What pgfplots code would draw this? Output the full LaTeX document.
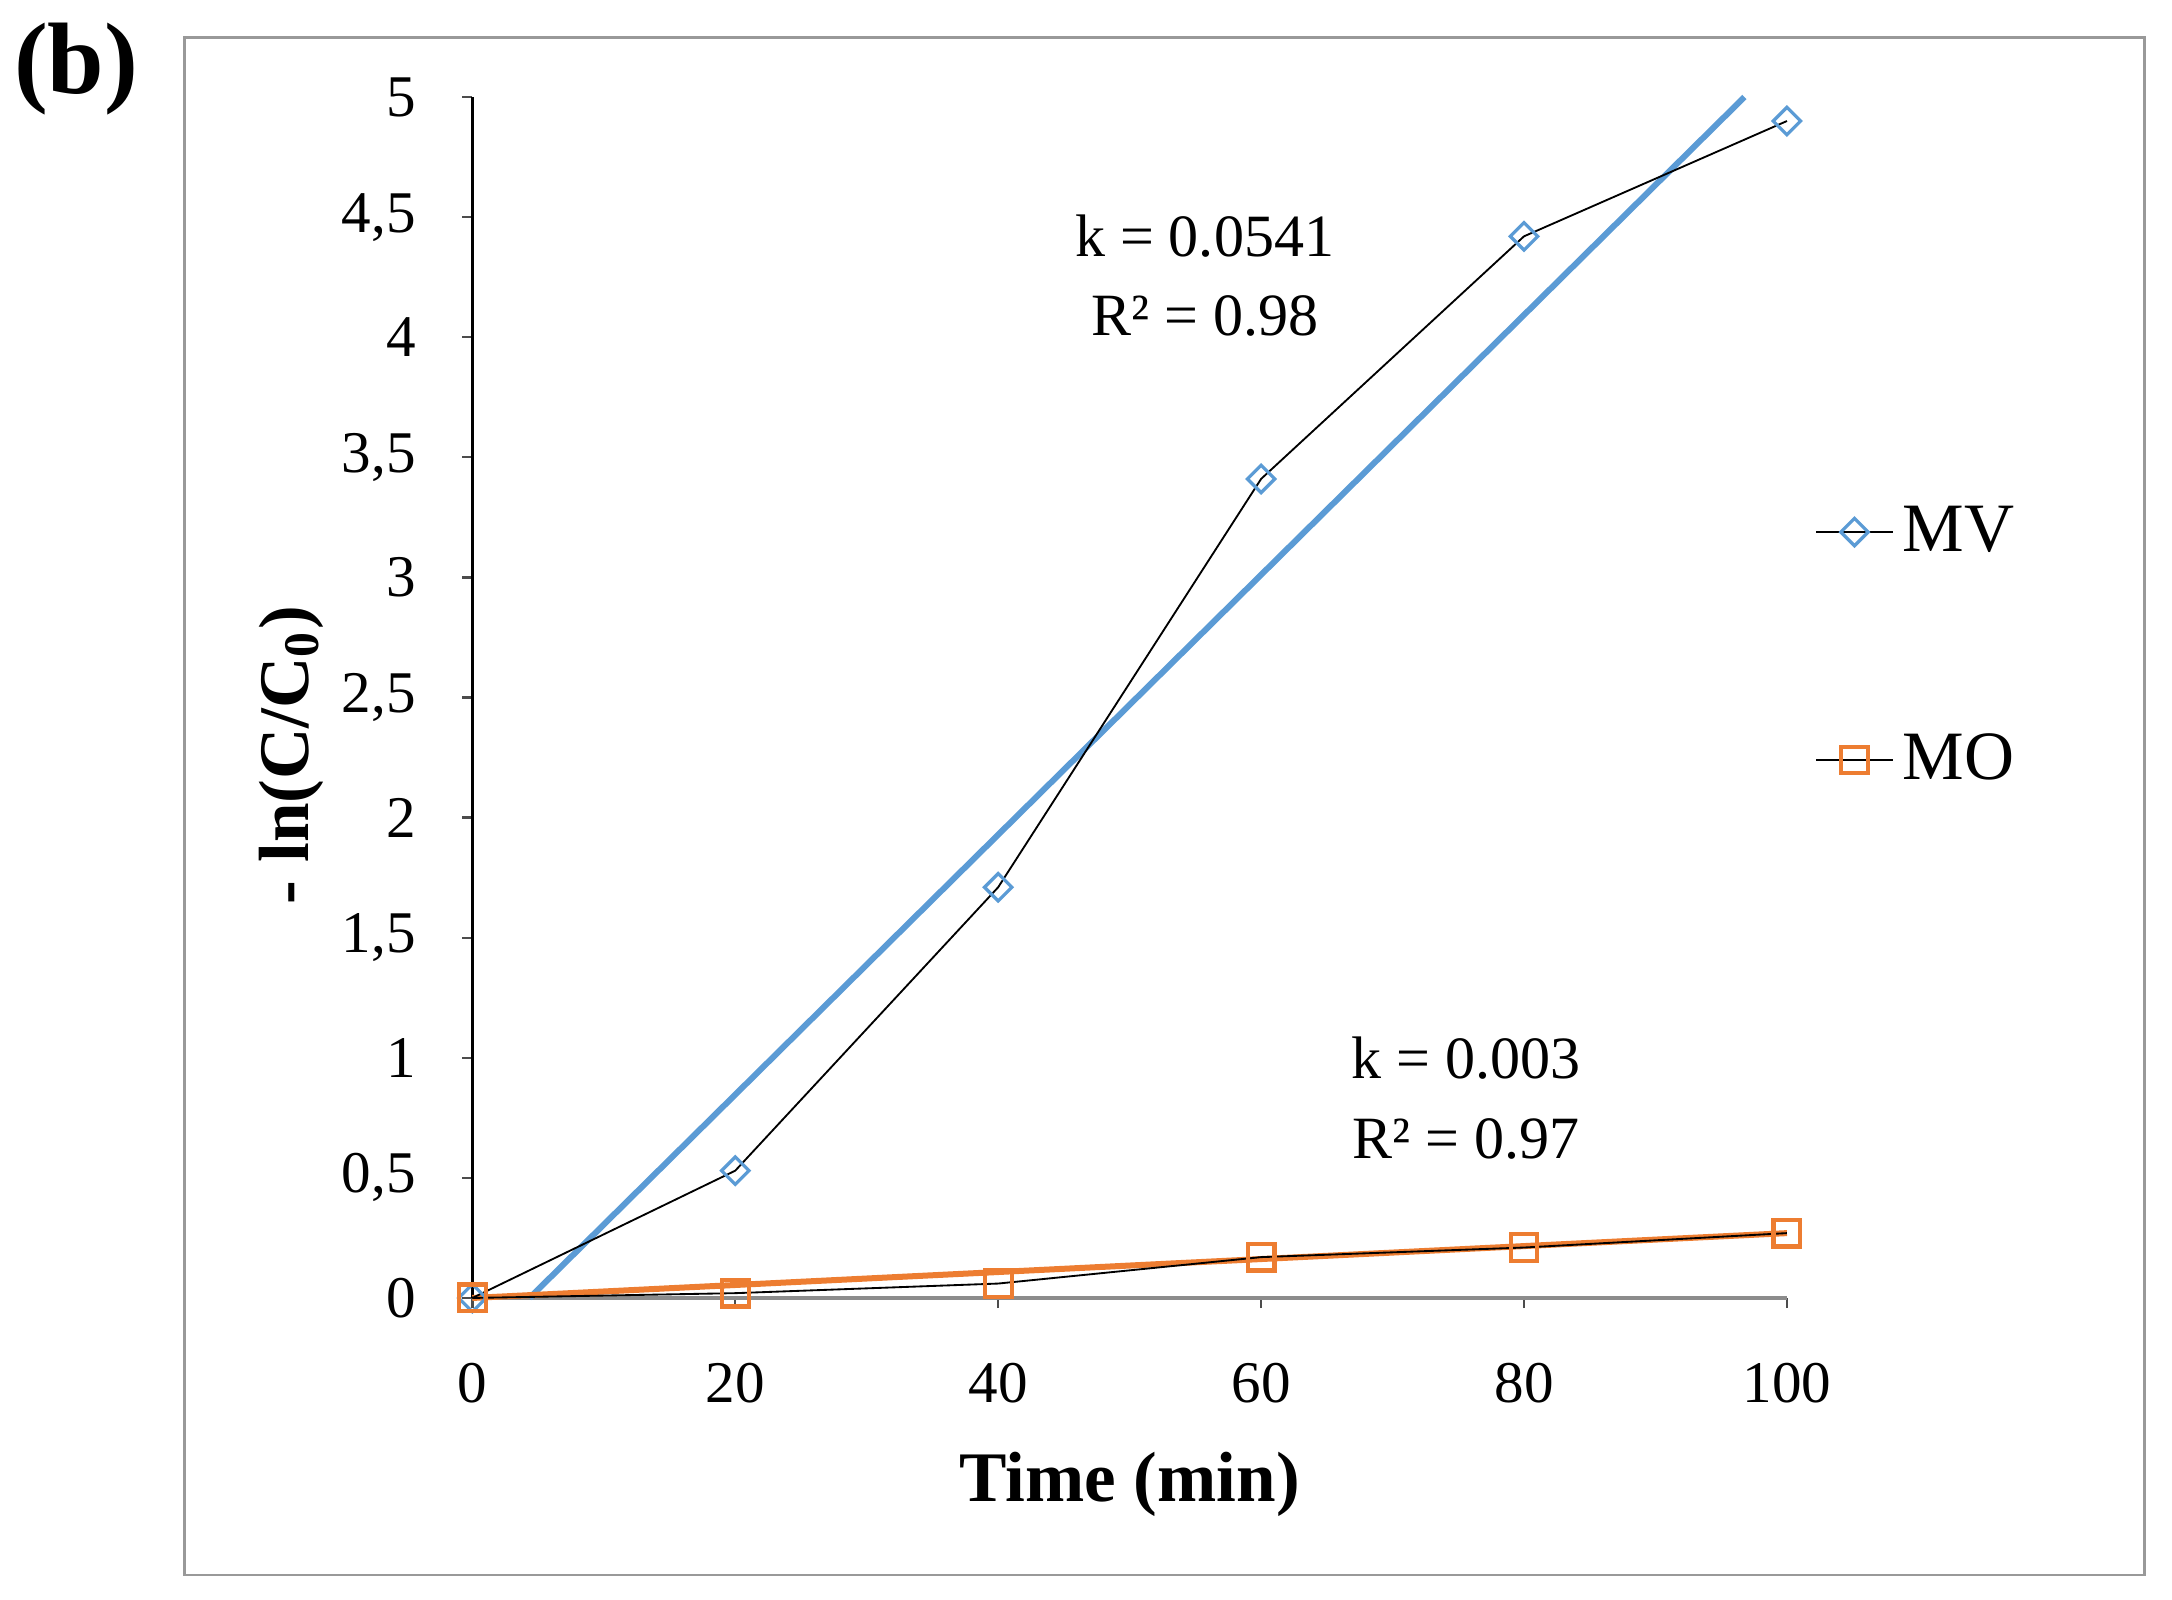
\documentclass[border=0pt]{standalone}
\usepackage{fontspec}
\setmainfont{Liberation Serif}
\usepackage{pgfplots}
\pgfplotsset{compat=1.18}
\definecolor{mvblue}{RGB}{91,155,213}
\definecolor{moorange}{RGB}{237,125,49}
\begin{document}
\begin{tikzpicture}[x=1pt,y=1pt]
\path[use as bounding box] (0,0) rectangle (470.4,346.5);
\draw[black!40, line width=0.6pt] (39.9,5.4) rectangle (464.4,338.4);
\node[font=\fontsize{22}{24}\selectfont\bfseries] at (16.5,331.5) {(b)};
\begin{axis}[
  at={(102.3pt,65.4pt)}, anchor=south west, scale only axis,
  width=284.7pt, height=260.1pt,
  xmin=0, xmax=100, ymin=0, ymax=5,
  axis x line*=bottom, axis y line*=left,
  x axis line style={-, black!45, line width=0.7pt},
  y axis line style={-, black, line width=0.6pt},
  clip=false,
  xtick={0,20,40,60,80,100},
  ytick={0,0.5,1,1.5,2,2.5,3,3.5,4,4.5,5},
  tick align=outside, major tick length=2.2pt,
  tick style={black!70, line width=0.5pt},
  /pgf/number format/use comma,
  /pgf/number format/assume math mode=true,
  /pgf/number format/1000 sep={},
  tick label style={font=\fontsize{12.8}{14}\selectfont},
  yticklabel style={xshift=-6.5pt},
  xticklabel style={yshift=-8.3pt},
  xlabel={Time (min)},
  ylabel={- ln(C/C\textsubscript{0})},
  label style={font=\fontsize{15.4}{17}\selectfont\bfseries},
  xlabel style={at={(axis description cs:0.5,-0.155)}, anchor=center},
  ylabel style={at={(axis description cs:-0.138,0.452)}, anchor=center},
  legend style={at={(axis description cs:1.021,0.668)}, anchor=north west,
    draw=none, fill=none, font=\fontsize{15}{16}\selectfont,
    row sep=34pt, inner sep=0pt, nodes={inner sep=2pt}},
  legend cell align=left,
  legend image code/.code={\draw[mark repeat=2,mark phase=2,#1] plot coordinates {(0pt,0pt)(8.25pt,0pt)(16.5pt,0pt)};},
]
\addplot[mvblue, line width=1.3pt, forget plot] coordinates {(4.35,0) (96.77,5)};
\addplot[moorange, line width=1.3pt, forget plot] coordinates {(0,0) (100,0.27)};
\addplot[black, line width=0.4pt, mark=square, mark size=2.1pt,
  mark options={draw=mvblue, fill=white, line width=0.7pt, solid, rotate=45}]
  coordinates {(0,0) (20,0.53) (40,1.71) (60,3.41) (80,4.42) (100,4.90)};
\addlegendentry{MV}
\addplot[black, line width=0.4pt, mark=square, mark size=2.9pt,
  mark options={draw=moorange, fill=white, line width=0.9pt, solid}]
  coordinates {(0,0) (20,0.02) (40,0.06) (60,0.17) (80,0.21) (100,0.27)};
\addlegendentry{MO}
\node[font=\fontsize{13}{14}\selectfont] at (axis cs:55.7,4.42) {k = 0.0541};
\node[font=\fontsize{13}{14}\selectfont] at (axis cs:55.7,4.09) {R² = 0.98};
\node[font=\fontsize{13}{14}\selectfont] at (axis cs:75.6,1.00) {k = 0.003};
\node[font=\fontsize{13}{14}\selectfont] at (axis cs:75.6,0.66) {R² = 0.97};
\end{axis}
\end{tikzpicture}
\end{document}
